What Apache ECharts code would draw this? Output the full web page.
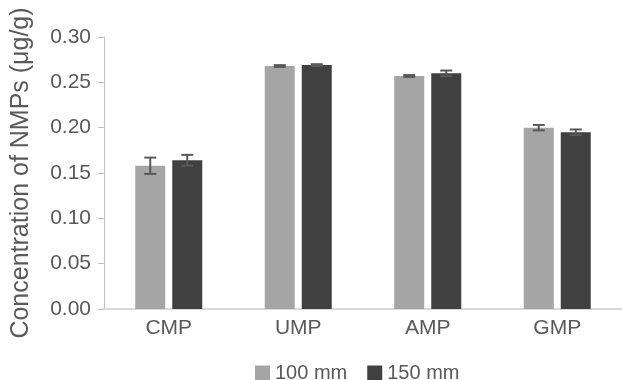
<!DOCTYPE html>
<html>
<head>
<meta charset="utf-8">
<script src="https://cdn.jsdelivr.net/npm/echarts@6/dist/echarts.min.js"></script>
<style>
  html, body { margin: 0; padding: 0; background: #fff; }
  #chart { width: 622px; height: 380px; }
</style>
</head>
<body>
<div id="chart"></div>
<script>
  var categories = ['CMP', 'UMP', 'AMP', 'GMP'];
  var seriesNames = ['100 mm', '150 mm'];
  var values100 = [0.158, 0.268, 0.257, 0.200];
  var values150 = [0.164, 0.269, 0.260, 0.195];
  var err100 = [0.009, 0.001, 0.001, 0.003];
  var err150 = [0.006, 0.001, 0.003, 0.003];

  var barW = 30;
  var gapPx = 7;

  function errSeries(vals, errs, side) {
    return {
      type: 'custom',
      z: 5,
      renderItem: function (params, api) {
        var i = api.value(0);
        var v = api.value(1);
        var e = api.value(2);
        var off = side * (barW + gapPx) / 2;
        var hi = api.coord([i, v + e]);
        var lo = api.coord([i, v - e]);
        var x = hi[0] + off;
        var cap = 6;
        var st = { stroke: '#595959', lineWidth: 2 };
        return {
          type: 'group',
          children: [
            { type: 'line', shape: { x1: x, y1: hi[1], x2: x, y2: lo[1] }, style: st },
            { type: 'line', shape: { x1: x - cap, y1: hi[1], x2: x + cap, y2: hi[1] }, style: st },
            { type: 'line', shape: { x1: x - cap, y1: lo[1], x2: x + cap, y2: lo[1] }, style: st }
          ]
        };
      },
      data: vals.map(function (v, i) { return [i, v, errs[i]]; })
    };
  }

  var chart = echarts.init(document.getElementById('chart'));
  chart.setOption({
    animation: false,
    textStyle: { fontFamily: 'Liberation Sans, Arial, sans-serif' },
    grid: { left: 104, width: 524, top: 37, height: 272 },
    legend: {
      data: seriesNames,
      top: 358,
      left: 250,
      itemWidth: 15,
      itemHeight: 15,
      itemGap: 20,
      icon: 'rect',
      textStyle: { fontSize: 20, color: '#595959', fontFamily: 'Liberation Sans, Arial, sans-serif' }
    },
    xAxis: {
      type: 'category',
      data: categories,
      axisLine: { lineStyle: { color: '#d9d9d9', width: 2 } },
      axisTick: { show: false },
      axisLabel: { fontSize: 21, color: '#595959', margin: 9 }
    },
    yAxis: {
      type: 'value',
      min: 0,
      max: 0.3,
      interval: 0.05,
      name: 'Concentration of NMPs (\u03bcg/g)',
      nameLocation: 'middle',
      nameGap: 70,
      nameTextStyle: { fontSize: 25, color: '#595959' },
      axisLine: { show: true, lineStyle: { color: '#bfbfbf', width: 1 } },
      axisTick: { show: true, inside: false, length: 6, lineStyle: { color: '#bfbfbf' } },
      splitLine: { show: false },
      axisLabel: {
        fontSize: 21,
        color: '#595959',
        margin: 13,
        formatter: function (v) { return v.toFixed(2); }
      }
    },
    series: [
      {
        name: seriesNames[0],
        type: 'bar',
        data: values100,
        barWidth: barW,
        barGap: (gapPx / barW * 100) + '%',
        itemStyle: { color: '#a5a5a5' }
      },
      {
        name: seriesNames[1],
        type: 'bar',
        data: values150,
        barWidth: barW,
        itemStyle: { color: '#404040' }
      },
      errSeries(values100, err100, -1),
      errSeries(values150, err150, 1)
    ]
  });
</script>
</body>
</html>
